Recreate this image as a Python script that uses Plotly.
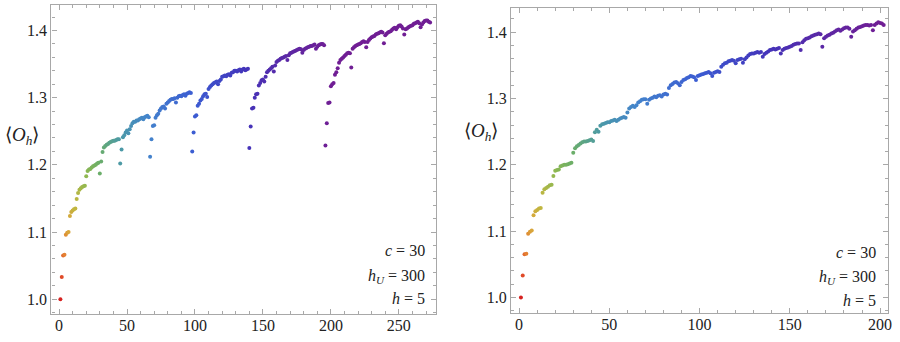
import numpy as np
import plotly.graph_objects as go
from plotly.subplots import make_subplots

# <O_h> per step, left run (with resets)
y_left = [
    1.000, 1.033, 1.065, 1.066, 1.096, 1.099, 1.100, 1.124, 1.130, 1.132,
    1.134, 1.135, 1.149, 1.158, 1.163, 1.165, 1.167, 1.168, 1.169, 1.183,
    1.191, 1.193, 1.194, 1.196, 1.198, 1.199, 1.200, 1.202, 1.203, 1.187,
    1.205, 1.219, 1.226, 1.228, 1.230, 1.231, 1.233, 1.234, 1.235, 1.236,
    1.236, 1.237, 1.238, 1.238, 1.202, 1.223, 1.241, 1.244, 1.248, 1.251,
    1.247, 1.253, 1.258, 1.262, 1.264, 1.264, 1.266, 1.266, 1.268, 1.269,
    1.270, 1.268, 1.271, 1.272, 1.273, 1.271, 1.212, 1.238, 1.258, 1.259,
    1.270, 1.274, 1.276, 1.281, 1.284, 1.286, 1.287, 1.284, 1.291, 1.293,
    1.295, 1.297, 1.298, 1.298, 1.299, 1.293, 1.300, 1.302, 1.303, 1.302,
    1.304, 1.305, 1.303, 1.306, 1.307, 1.308, 1.307, 1.220, 1.248, 1.272,
    1.274, 1.288, 1.291, 1.296, 1.298, 1.302, 1.305, 1.306, 1.301, 1.313,
    1.316, 1.318, 1.320, 1.322, 1.323, 1.324, 1.320, 1.325, 1.327, 1.331,
    1.332, 1.333, 1.332, 1.334, 1.335, 1.333, 1.337, 1.338, 1.340, 1.340,
    1.339, 1.341, 1.342, 1.339, 1.342, 1.343, 1.341, 1.342, 1.343, 1.225,
    1.257, 1.284, 1.285, 1.300, 1.305, 1.306, 1.318, 1.322, 1.326, 1.327,
    1.324, 1.331, 1.338, 1.340, 1.342, 1.344, 1.346, 1.339, 1.348, 1.353,
    1.355, 1.356, 1.358, 1.359, 1.360, 1.361, 1.362, 1.356, 1.363, 1.366,
    1.367, 1.368, 1.369, 1.370, 1.371, 1.372, 1.373, 1.372, 1.367, 1.371,
    1.373, 1.374, 1.375, 1.376, 1.377, 1.377, 1.378, 1.379, 1.373, 1.376,
    1.378, 1.379, 1.380, 1.380, 1.378, 1.229, 1.262, 1.292, 1.293, 1.317,
    1.320, 1.322, 1.334, 1.338, 1.344, 1.352, 1.356, 1.358, 1.360, 1.362,
    1.364, 1.366, 1.367, 1.366, 1.345, 1.373, 1.375, 1.377, 1.378, 1.379,
    1.380, 1.381, 1.383, 1.384, 1.383, 1.375, 1.383, 1.386, 1.388, 1.390,
    1.391, 1.392, 1.394, 1.395, 1.396, 1.397, 1.398, 1.397, 1.381, 1.393,
    1.395, 1.397, 1.398, 1.399, 1.401, 1.403, 1.404, 1.402, 1.405, 1.407,
    1.408, 1.406, 1.403, 1.394, 1.402, 1.403, 1.405, 1.406, 1.407, 1.408,
    1.410, 1.411, 1.412, 1.413, 1.411, 1.405, 1.409, 1.412, 1.414, 1.415,
    1.415, 1.413, 1.412,
]

# right run (smooth)
y_right = [
    1.000, 1.033, 1.065, 1.066, 1.096, 1.099, 1.101, 1.124, 1.130, 1.132,
    1.134, 1.135, 1.158, 1.163, 1.165, 1.167, 1.169, 1.170, 1.183, 1.191,
    1.192, 1.193, 1.198, 1.199, 1.200, 1.200, 1.201, 1.202, 1.203, 1.218,
    1.225, 1.228, 1.230, 1.232, 1.234, 1.235, 1.235, 1.236, 1.237, 1.238,
    1.236, 1.249, 1.253, 1.250, 1.259, 1.261, 1.262, 1.263, 1.264, 1.264,
    1.266, 1.267, 1.268, 1.266, 1.268, 1.270, 1.271, 1.272, 1.271, 1.279,
    1.285, 1.287, 1.289, 1.287, 1.290, 1.294, 1.296, 1.298, 1.299, 1.299,
    1.292, 1.298, 1.300, 1.301, 1.303, 1.302, 1.304, 1.305, 1.303, 1.306,
    1.307, 1.306, 1.316, 1.320, 1.322, 1.324, 1.325, 1.323, 1.320, 1.325,
    1.328, 1.329, 1.331, 1.332, 1.334, 1.333, 1.332, 1.328, 1.334, 1.335,
    1.336, 1.337, 1.338, 1.339, 1.340, 1.338, 1.334, 1.339, 1.340, 1.341,
    1.340, 1.348, 1.351, 1.353, 1.354, 1.356, 1.357, 1.358, 1.357, 1.353,
    1.358, 1.359, 1.360, 1.354, 1.359, 1.362, 1.365, 1.367, 1.368, 1.368,
    1.369, 1.370, 1.369, 1.370, 1.363, 1.367, 1.369, 1.371, 1.373, 1.374,
    1.375, 1.374, 1.375, 1.376, 1.368, 1.373, 1.375, 1.376, 1.377, 1.378,
    1.379, 1.381, 1.382, 1.383, 1.383, 1.373, 1.385, 1.388, 1.390, 1.391,
    1.392, 1.394, 1.395, 1.396, 1.397, 1.398, 1.397, 1.378, 1.391, 1.393,
    1.395, 1.396, 1.398, 1.399, 1.401, 1.403, 1.404, 1.402, 1.404, 1.406,
    1.407, 1.407, 1.405, 1.393, 1.401, 1.403, 1.405, 1.407, 1.408, 1.409,
    1.410, 1.411, 1.411, 1.410, 1.411, 1.403, 1.411, 1.413, 1.415, 1.414,
    1.413, 1.411,
]

x_left = list(range(1, len(y_left) + 1))
x_right = list(range(1, len(y_right) + 1))

x_ticks_left = [0, 50, 100, 150, 200, 250]
x_ticks_right = [0, 50, 100, 150, 200]
y_ticks = [1.0, 1.1, 1.2, 1.3, 1.4]
params = ["<i>c</i> = 30", "<i>h</i><sub><i>U</i></sub> = 300", "<i>h</i> = 5"]

# reversed "Rainbow"-like scale, coloured by log(step)
rainbow = [
    [0.00, "rgb(214,34,32)"],
    [0.13, "rgb(224,74,40)"],
    [0.26, "rgb(228,128,50)"],
    [0.37, "rgb(216,166,58)"],
    [0.47, "rgb(192,182,64)"],
    [0.57, "rgb(142,184,82)"],
    [0.64, "rgb(108,174,104)"],
    [0.72, "rgb(76,154,166)"],
    [0.79, "rgb(68,132,204)"],
    [0.87, "rgb(60,92,210)"],
    [0.93, "rgb(68,52,186)"],
    [1.00, "rgb(112,30,148)"],
]
cmax = np.log(200)

fig = make_subplots(rows=1, cols=2)

for col, xs, ys in [(1, x_left, y_left), (2, x_right, y_right)]:
    fig.add_trace(go.Scatter(
        x=xs, y=ys, mode="markers",
        marker=dict(size=4, color=np.log(xs), colorscale=rainbow,
                    cmin=0, cmax=cmax, line=dict(width=0)),
        showlegend=False), row=1, col=col)

font = dict(family="Liberation Serif, Times New Roman, serif", size=16, color="#222")
axis_style = dict(showline=True, linecolor="#a8a8a8", linewidth=1.3, mirror="allticks",
                  ticks="inside", ticklen=5, tickcolor="#a8a8a8", tickwidth=1,
                  showgrid=False, zeroline=False, tickfont=font,
                  minor=dict(ticks="inside", ticklen=3, tickcolor="#a8a8a8", showgrid=False))

fig.update_layout(
    width=900, height=342, margin=dict(l=0, r=0, t=0, b=0),
    plot_bgcolor="white", paper_bgcolor="white", font=font,
    xaxis=dict(domain=[0.0574, 0.4867], range=[-5.6, 277.4], tickvals=x_ticks_left,
               minor_dtick=10, ticklabelstandoff=-3, **axis_style),
    yaxis=dict(domain=[0.0819, 0.9854], range=[0.978, 1.438], tickvals=y_ticks,
               ticktext=["%.1f" % v for v in y_ticks], minor_dtick=0.02, **axis_style),
    xaxis2=dict(domain=[0.5703, 0.9911], range=[-4.5, 204.4], tickvals=x_ticks_right,
                minor_dtick=10, ticklabelstandoff=-3, **axis_style),
    yaxis2=dict(domain=[0.0857, 0.9757], range=[0.977, 1.436], tickvals=y_ticks,
                ticktext=["%.1f" % v for v in y_ticks], minor_dtick=0.02, **axis_style),
)

title = "⟨<i>O</i><sub><i>h</i></sub>⟩"
for xc, yc in [(22, 136), (483, 132)]:
    fig.add_annotation(text=title, xref="paper", yref="paper", x=xc / 900, y=1 - yc / 342,
                       xanchor="center", yanchor="middle", showarrow=False,
                       font=dict(font, size=19))

for xr, ys in [(429, [250, 276, 298]), (882, [252.5, 277.5, 300])]:
    for txt, yp in zip(params, ys):
        fig.add_annotation(text=txt, xref="paper", yref="paper", x=xr / 900,
                           y=1 - yp / 342, xanchor="right", yanchor="middle",
                           showarrow=False, font=font)

# page body has a default margin; drop it so the figure sits at the window's origin
fig.write_html("out.html", config={"displayModeBar": False},
               post_script="document.body.style.margin='0';")
